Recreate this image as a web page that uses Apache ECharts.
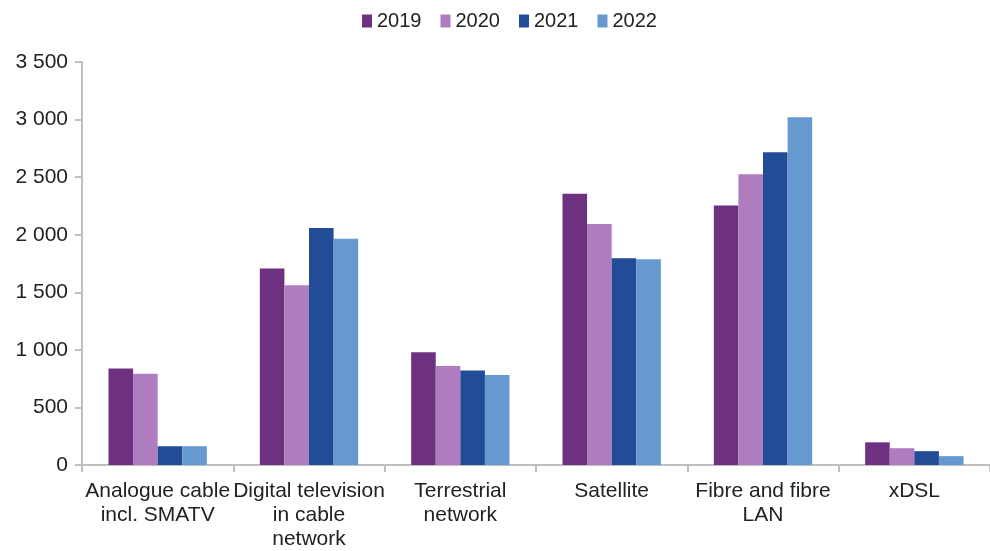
<!DOCTYPE html>
<html>
<head>
<meta charset="utf-8">
<script src="https://cdn.jsdelivr.net/npm/echarts@6/dist/echarts.min.js"></script>
<style>
  html, body { margin: 0; padding: 0; background: #fff; }
  #chart { width: 990px; height: 551px; }
</style>
</head>
<body>
<div id="chart"></div>
<script>
// categories and values
const categories = [
  "Analogue cable\nincl. SMATV",
  "Digital television\nin cable\nnetwork",
  "Terrestrial\nnetwork",
  "Satellite",
  "Fibre and fibre\nLAN",
  "xDSL"
];
const years = ["2019", "2020", "2021", "2022"];
const v2019 = [838, 1707, 980, 2356, 2253, 197];
const v2020 = [792, 1561, 860, 2093, 2525, 146];
const v2021 = [163, 2059, 821, 1796, 2717, 120];
const v2022 = [163, 1964, 781, 1787, 3020, 77];
const colors = ["#6E3180", "#B07CC0", "#234C96", "#6699D0"];

const chart = echarts.init(document.getElementById("chart"));
const font = "Liberation Sans, Arial, sans-serif";

const seriesData = [v2019, v2020, v2021, v2022];
const series = years.map((y, i) => ({
  name: y,
  type: "bar",
  data: seriesData[i],
  barGap: "0%",
  barCategoryGap: "35%",
  itemStyle: { color: colors[i] }
}));

chart.setOption({
  animation: false,
  textStyle: { fontFamily: font },
  legend: {
    top: 6,
    left: 357,
    itemWidth: 10,
    itemHeight: 13,
    itemGap: 19,
    icon: "rect",
    textStyle: { fontSize: 20, color: "#222", fontFamily: font },
    data: years
  },
  grid: { left: 82, right: 0, top: 62, bottom: 76 },
  xAxis: {
    type: "category",
    data: categories,
    axisLine: { lineStyle: { color: "#bfbfbf", width: 2 } },
    axisTick: { show: true, length: 7, lineStyle: { color: "#bfbfbf", width: 2 } },
    axisLabel: { fontSize: 21, color: "#222", lineHeight: 24, interval: 0, margin: 14 }
  },
  yAxis: {
    type: "value",
    min: 0,
    max: 3500,
    interval: 500,
    axisLine: { show: true, lineStyle: { color: "#bfbfbf", width: 2 } },
    axisTick: { show: true, length: 7, lineStyle: { color: "#bfbfbf", width: 2 } },
    splitLine: { show: false },
    axisLabel: {
      fontSize: 21,
      color: "#222",
      margin: 14,
      formatter: v => String(v).replace(/\B(?=(\d{3})+(?!\d))/g, " ")
    }
  },
  series: series
});
</script>
</body>
</html>
